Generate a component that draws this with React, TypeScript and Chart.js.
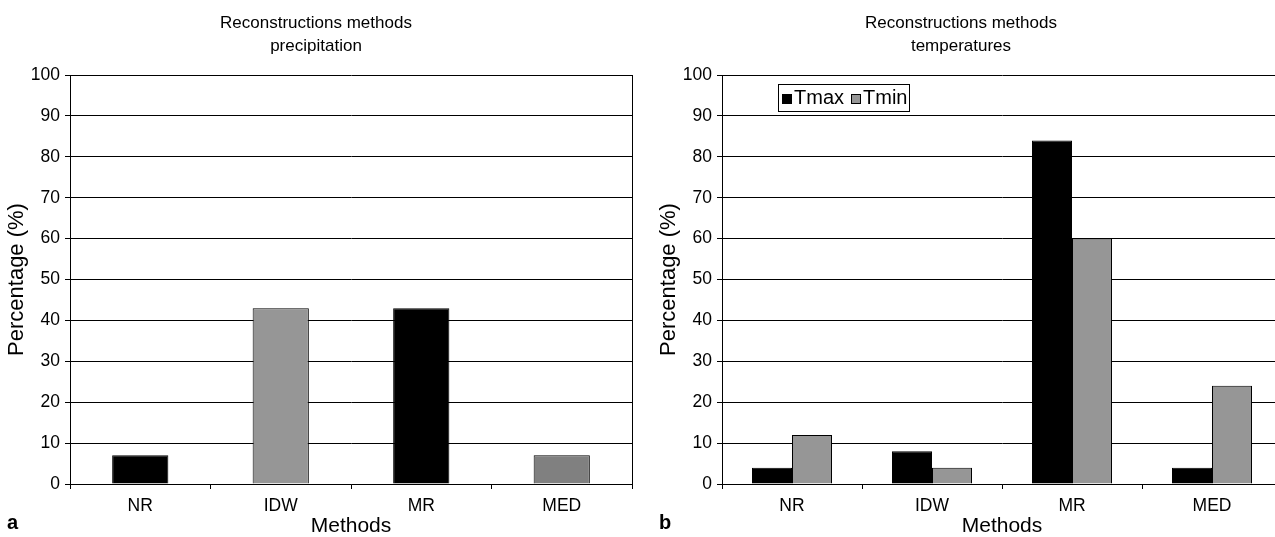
import React, { useEffect, useRef } from "react";
import { Chart, registerables } from "chart.js";

Chart.register(...registerables);

// ---- data ----
const categories = ["NR", "IDW", "MR", "MED"];
const precipitationValues = [7, 43, 43, 7];
const tmaxValues = [4, 8, 84, 4];
const tminValues = [12, 4, 60, 24];
const seriesLabels = ["Tmax", "Tmin"];
const precipitationTitle = ["Reconstructions methods", "precipitation"];
const temperatureTitle = ["Reconstructions methods", "temperatures"];
const xAxisTitle = "Methods";
const yAxisTitle = "Percentage (%)";
const yMin = 0;
const yMax = 100;
const yStep = 10;
const panelLetters = ["a", "b"];

// ---- styles ----
const FONT = '"Liberation Sans", Arial, Helvetica, sans-serif';
const precipitationColors = ["#000000", "#969696", "#000000", "#808080"];
const tmaxColor = "#000000";
const tminColor = "#969696";

const boxLegendPlugin = {
  id: "boxLegend",
  afterDraw(chart: any) {
    const opts = chart.options.plugins.boxLegend;
    if (!opts || !opts.display) return;
    const { ctx, chartArea } = chart;
    const size = opts.fontSize;
    ctx.save();
    ctx.font = `${size}px ${FONT}`;
    const items = chart.data.datasets.map((ds: any) => ({
      label: ds.label,
      color: ds.backgroundColor,
    }));
    const marker = 10;
    const gapMarkerText = 2;
    const gapItems = 7;
    const padL = 4;
    const padR = 2;
    const height = opts.height;
    const widths = items.map((it: any) => ctx.measureText(it.label).width);
    let total = padL + padR;
    items.forEach((_: any, i: number) => {
      total += marker + gapMarkerText + widths[i];
      if (i < items.length - 1) total += gapItems;
    });
    total = Math.round(total);
    const x0 = Math.round(chartArea.left + opts.offsetX);
    const y0 = Math.round(chartArea.top + opts.offsetY);
    ctx.fillStyle = "#ffffff";
    ctx.fillRect(x0, y0, total, height);
    ctx.strokeStyle = "#000000";
    ctx.lineWidth = 1;
    ctx.strokeRect(x0 + 0.5, y0 + 0.5, total, height);
    let x = x0 + padL;
    const cy = y0 + height / 2 + 1;
    items.forEach((it: any, i: number) => {
      const my = Math.round(cy - marker / 2);
      ctx.fillStyle = it.color;
      ctx.fillRect(Math.round(x), my, marker, marker);
      ctx.strokeStyle = "#000000";
      ctx.strokeRect(Math.round(x) + 0.5, my + 0.5, marker - 1, marker - 1);
      x += marker + gapMarkerText;
      ctx.fillStyle = "#000000";
      ctx.textBaseline = "middle";
      ctx.textAlign = "left";
      ctx.fillText(it.label, x, cy);
      x += widths[i] + gapItems;
    });
    ctx.restore();
  },
};

function makeOptions(titleLines: string[], yAxisWidth: number, yTitlePad: number, legend: any) {
  return {
    responsive: false,
    animation: false,
    devicePixelRatio: 1,
    layout: { padding: { left: 0, right: 8, top: 0, bottom: 0 } },
    plugins: {
      legend: { display: false },
      tooltip: { enabled: false },
      title: {
        display: true,
        text: titleLines,
        color: "#000",
        font: { family: FONT, size: 17, weight: "normal", lineHeight: 23 / 17 },
        padding: { top: 12, bottom: 17 },
      },
      boxLegend: legend,
    },
    scales: {
      x: {
        type: "category",
        offset: true,
        grid: {
          offset: true,
          drawOnChartArea: true,
          color: (c: any) => (c.type === "scale" ? "#000000" : "rgba(0,0,0,0)"),
          tickColor: "#000000",
          tickLength: 5,
          lineWidth: 1,
        },
        border: { color: "#000000", width: 1 },
        ticks: {
          color: "#000",
          font: { family: FONT, size: 17.5 },
          padding: 7,
          maxRotation: 0,
          autoSkip: false,
        },
        title: {
          display: true,
          text: xAxisTitle,
          color: "#000",
          font: { family: FONT, size: 21, lineHeight: 1 },
          padding: 0,
        },
        afterFit: (s: any) => {
          s.height = 53;
        },
      },
      y: {
        min: yMin,
        max: yMax,
        ticks: {
          stepSize: yStep,
          color: "#000",
          font: { family: FONT, size: 17.5 },
          padding: 5,
        },
        grid: { color: "#000000", tickColor: "#000000", tickLength: 5, lineWidth: 1 },
        border: { color: "#000000", width: 1 },
        title: {
          display: true,
          text: yAxisTitle,
          color: "#000",
          font: { family: FONT, size: 22, lineHeight: 1 },
          padding: { top: yTitlePad, bottom: 0 },
        },
        afterFit: (s: any) => {
          s.width = yAxisWidth;
        },
      },
    },
  };
}

export default function App() {
  const leftRef = useRef<HTMLCanvasElement | null>(null);
  const rightRef = useRef<HTMLCanvasElement | null>(null);

  useEffect(() => {
    const left = new Chart(leftRef.current as HTMLCanvasElement, {
      type: "bar",
      data: {
        labels: categories,
        datasets: [
          {
            label: "precipitation",
            data: precipitationValues,
            backgroundColor: precipitationColors,
            borderColor: "#000000",
            borderWidth: 1,
            categoryPercentage: 0.4,
            barPercentage: 1,
          },
        ],
      },
      options: makeOptions(precipitationTitle, 70, 6, { display: false }) as any,
    });
    const right = new Chart(rightRef.current as HTMLCanvasElement, {
      type: "bar",
      data: {
        labels: categories,
        datasets: [
          {
            label: seriesLabels[0],
            data: tmaxValues,
            backgroundColor: tmaxColor,
            borderColor: "#000000",
            borderWidth: 1,
            categoryPercentage: 80 / 140,
            barPercentage: 1,
          },
          {
            label: seriesLabels[1],
            data: tminValues,
            backgroundColor: tminColor,
            borderColor: "#000000",
            borderWidth: 1,
            categoryPercentage: 80 / 140,
            barPercentage: 1,
          },
        ],
      },
      options: makeOptions(temperatureTitle, 82, 18, {
        display: true,
        fontSize: 20,
        offsetX: 56,
        offsetY: 9,
        height: 27,
      }) as any,
      plugins: [boxLegendPlugin],
    });
    return () => {
      left.destroy();
      right.destroy();
    };
  }, []);

  const letterStyle: React.CSSProperties = {
    position: "absolute",
    top: 512,
    fontFamily: FONT,
    fontWeight: "bold",
    fontSize: 20,
    lineHeight: "20px",
    color: "#000",
  };

  return (
    <div
      style={{
        position: "fixed",
        left: 0,
        top: 0,
        width: 1275,
        height: 537,
        overflow: "hidden",
        background: "#fff",
      }}
    >
      <canvas
        ref={leftRef}
        width={640}
        height={537}
        style={{ position: "absolute", left: 0, top: 0, width: 640, height: 537 }}
      />
      <canvas
        ref={rightRef}
        width={650}
        height={537}
        style={{ position: "absolute", left: 640, top: 0, width: 650, height: 537 }}
      />
      <div style={{ ...letterStyle, left: 7 }}>{panelLetters[0]}</div>
      <div style={{ ...letterStyle, left: 659 }}>{panelLetters[1]}</div>
    </div>
  );
}
